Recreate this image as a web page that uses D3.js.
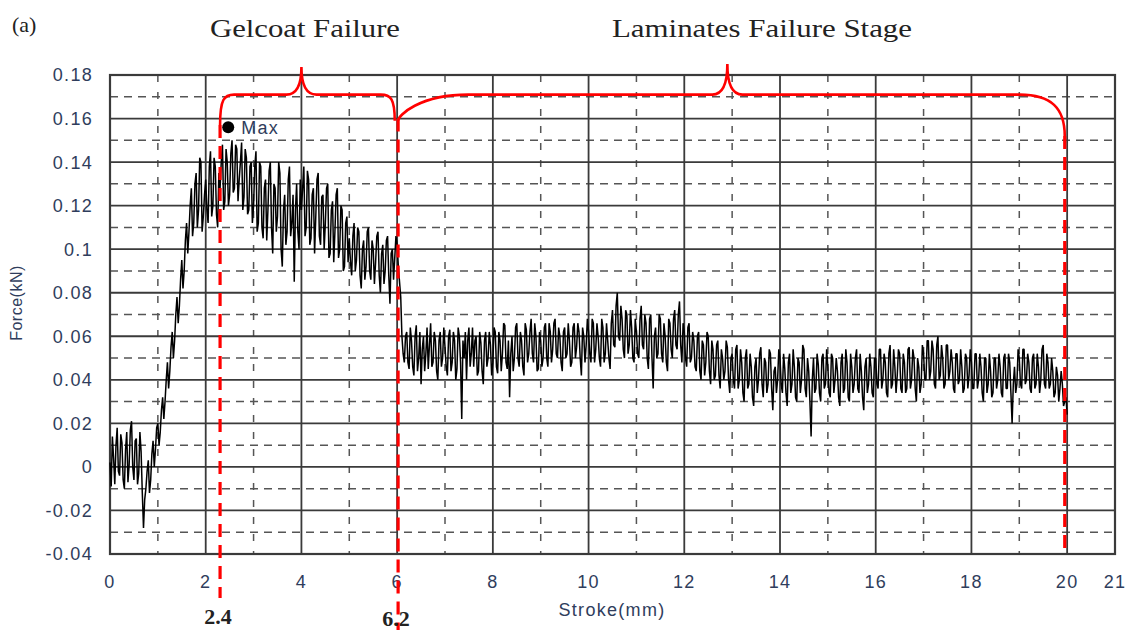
<!DOCTYPE html>
<meta charset="utf-8">
<style>
  body { margin: 0; background: #fff; }
  .tick-label { font: 18px "Liberation Sans", Arial, sans-serif; fill: #2f3d5c; letter-spacing: 1.3px; }
  .serif { font-family: "Liberation Serif", "Times New Roman", serif; fill: #222; }
</style>
<body>
<script src="https://d3js.org/d3.v7.min.js"></script>
<script>

// Force readings (kN), one every 0.05 mm of stroke (1 mm per row)
var strokeStep = 0.05;
var forceValues = [
  0.002, 0.014, -0.008, 0.018, -0.004, 0.011, -0.010, 0.016, 0.001, 0.021, -0.006, 0.013, -0.003, 0.007, -0.028, -0.010, 0.003, -0.006, 0.012, 0.008,
  0.020, 0.016, 0.032, 0.030, 0.048, 0.044, 0.062, 0.058, 0.078, 0.074, 0.095, 0.090, 0.112, 0.108, 0.128, 0.112, 0.135, 0.118, 0.140, 0.115,
  0.132, 0.112, 0.145, 0.120, 0.138, 0.110, 0.128, 0.148, 0.122, 0.140, 0.125, 0.150, 0.128, 0.146, 0.132, 0.149, 0.124, 0.142, 0.118, 0.140,
  0.120, 0.145, 0.112, 0.138, 0.105, 0.132, 0.118, 0.140, 0.098, 0.128, 0.115, 0.135, 0.092, 0.125, 0.108, 0.138, 0.112, 0.085, 0.130, 0.100,
  0.118, 0.138, 0.110, 0.132, 0.105, 0.128, 0.115, 0.135, 0.102, 0.125, 0.112, 0.130, 0.098, 0.122, 0.108, 0.128, 0.100, 0.118, 0.092, 0.115,
  0.105, 0.088, 0.112, 0.095, 0.108, 0.082, 0.104, 0.092, 0.110, 0.086, 0.100, 0.094, 0.108, 0.080, 0.102, 0.090, 0.106, 0.075, 0.100, 0.096,
  0.102, 0.085, 0.060, 0.048, 0.062, 0.045, 0.058, 0.042, 0.065, 0.050, 0.038, 0.060, 0.052, 0.045, 0.066, 0.048, 0.058, 0.040, 0.062, 0.050,
  0.055, 0.042, 0.063, 0.048, 0.058, 0.045, 0.060, 0.022, 0.050, 0.040, 0.064, 0.052, 0.046, 0.060, 0.044, 0.057, 0.038, 0.062, 0.050, 0.056,
  0.048, 0.062, 0.043, 0.058, 0.052, 0.065, 0.045, 0.032, 0.060, 0.050, 0.066, 0.046, 0.058, 0.042, 0.063, 0.052, 0.068, 0.048, 0.060, 0.045,
  0.058, 0.050, 0.066, 0.046, 0.062, 0.054, 0.068, 0.050, 0.060, 0.044, 0.064, 0.052, 0.058, 0.048, 0.066, 0.055, 0.062, 0.042, 0.060, 0.056,
  0.062, 0.048, 0.066, 0.054, 0.060, 0.046, 0.064, 0.052, 0.058, 0.045, 0.072, 0.055, 0.080, 0.058, 0.068, 0.050, 0.070, 0.056, 0.064, 0.048,
  0.062, 0.050, 0.074, 0.054, 0.066, 0.045, 0.070, 0.036, 0.064, 0.052, 0.068, 0.048, 0.060, 0.044, 0.066, 0.050, 0.072, 0.054, 0.076, 0.048,
  0.062, 0.046, 0.066, 0.050, 0.058, 0.044, 0.062, 0.040, 0.056, 0.048, 0.060, 0.038, 0.054, 0.042, 0.058, 0.036, 0.050, 0.044, 0.055, 0.034,
  0.052, 0.036, 0.056, 0.040, 0.048, 0.030, 0.054, 0.038, 0.046, 0.028, 0.050, 0.040, 0.055, 0.032, 0.048, 0.038, 0.052, 0.026, 0.046, 0.040,
  0.050, 0.034, 0.045, 0.028, 0.052, 0.038, 0.046, 0.030, 0.048, 0.040, 0.054, 0.032, 0.044, 0.014, 0.050, 0.036, 0.047, 0.030, 0.052, 0.038,
  0.046, 0.032, 0.050, 0.040, 0.044, 0.028, 0.052, 0.036, 0.048, 0.030, 0.046, 0.038, 0.054, 0.034, 0.044, 0.026, 0.050, 0.038, 0.046, 0.032,
  0.050, 0.036, 0.054, 0.040, 0.048, 0.032, 0.056, 0.038, 0.046, 0.042, 0.052, 0.034, 0.048, 0.036, 0.055, 0.040, 0.050, 0.030, 0.046, 0.038,
  0.052, 0.040, 0.058, 0.044, 0.054, 0.036, 0.060, 0.042, 0.050, 0.038, 0.056, 0.044, 0.048, 0.034, 0.052, 0.040, 0.046, 0.036, 0.050, 0.042,
  0.048, 0.036, 0.052, 0.040, 0.046, 0.030, 0.050, 0.038, 0.044, 0.034, 0.050, 0.040, 0.046, 0.032, 0.052, 0.036, 0.048, 0.020, 0.046, 0.038,
  0.050, 0.036, 0.054, 0.040, 0.048, 0.034, 0.052, 0.038, 0.046, 0.040, 0.056, 0.036, 0.048, 0.038, 0.044, 0.034, 0.042, 0.036, 0.038, 0.030,
  0.024
];
// readings half way between the ones above (0.025, 0.075, ... mm)
var forceMid = [
  -0.009, 0.004, 0.010, -0.002, 0.015, -0.006, 0.008, -0.007, 0.017, 0.000, 0.012, -0.008, 0.016, -0.012, -0.015, -0.002, -0.012, 0.006, 0.000, 0.018,
  0.010, 0.026, 0.022, 0.040, 0.036, 0.055, 0.050, 0.070, 0.066, 0.086, 0.082, 0.104, 0.098, 0.120, 0.106, 0.130, 0.110, 0.142, 0.108, 0.125,
  0.118, 0.138, 0.115, 0.142, 0.116, 0.135, 0.140, 0.118, 0.146, 0.120, 0.144, 0.126, 0.148, 0.122, 0.140, 0.118, 0.146, 0.116, 0.138, 0.112,
  0.138, 0.108, 0.140, 0.110, 0.128, 0.104, 0.136, 0.110, 0.130, 0.108, 0.140, 0.100, 0.118, 0.102, 0.132, 0.106, 0.125, 0.118, 0.108, 0.132,
  0.128, 0.106, 0.136, 0.102, 0.125, 0.098, 0.132, 0.106, 0.124, 0.100, 0.128, 0.096, 0.118, 0.094, 0.125, 0.096, 0.120, 0.090, 0.112, 0.094,
  0.094, 0.106, 0.090, 0.110, 0.088, 0.100, 0.086, 0.108, 0.090, 0.104, 0.084, 0.106, 0.088, 0.098, 0.084, 0.104, 0.088, 0.098, 0.086, 0.106,
  0.092, 0.078, 0.052, 0.060, 0.048, 0.064, 0.046, 0.060, 0.044, 0.062, 0.054, 0.044, 0.064, 0.056, 0.046, 0.062, 0.044, 0.058, 0.046, 0.064,
  0.046, 0.060, 0.044, 0.062, 0.040, 0.064, 0.048, 0.058, 0.062, 0.058, 0.046, 0.064, 0.058, 0.042, 0.062, 0.044, 0.058, 0.046, 0.062, 0.042,
  0.064, 0.046, 0.062, 0.044, 0.066, 0.048, 0.058, 0.052, 0.044, 0.064, 0.050, 0.062, 0.046, 0.066, 0.048, 0.062, 0.052, 0.066, 0.044, 0.062,
  0.046, 0.064, 0.050, 0.066, 0.048, 0.066, 0.052, 0.064, 0.048, 0.062, 0.050, 0.066, 0.046, 0.064, 0.050, 0.066, 0.050, 0.064, 0.048, 0.068,
  0.052, 0.068, 0.048, 0.066, 0.050, 0.068, 0.048, 0.066, 0.050, 0.066, 0.056, 0.074, 0.060, 0.074, 0.054, 0.072, 0.052, 0.072, 0.050, 0.068,
  0.052, 0.068, 0.056, 0.070, 0.050, 0.068, 0.050, 0.060, 0.050, 0.070, 0.052, 0.066, 0.048, 0.068, 0.054, 0.068, 0.056, 0.070, 0.056, 0.066,
  0.050, 0.064, 0.048, 0.062, 0.046, 0.060, 0.044, 0.058, 0.042, 0.062, 0.044, 0.058, 0.040, 0.056, 0.042, 0.054, 0.040, 0.058, 0.040, 0.050,
  0.040, 0.054, 0.036, 0.054, 0.034, 0.050, 0.036, 0.052, 0.032, 0.046, 0.034, 0.052, 0.038, 0.050, 0.034, 0.054, 0.036, 0.044, 0.034, 0.054,
  0.038, 0.052, 0.034, 0.048, 0.034, 0.054, 0.032, 0.050, 0.034, 0.056, 0.036, 0.050, 0.030, 0.040, 0.034, 0.052, 0.034, 0.050, 0.036, 0.054,
  0.034, 0.052, 0.034, 0.050, 0.032, 0.048, 0.034, 0.054, 0.032, 0.052, 0.034, 0.050, 0.036, 0.052, 0.032, 0.046, 0.034, 0.052, 0.034, 0.050,
  0.038, 0.054, 0.036, 0.052, 0.034, 0.052, 0.036, 0.054, 0.034, 0.054, 0.036, 0.052, 0.034, 0.054, 0.036, 0.054, 0.036, 0.050, 0.034, 0.056,
  0.040, 0.058, 0.040, 0.058, 0.038, 0.056, 0.040, 0.056, 0.036, 0.056, 0.040, 0.054, 0.036, 0.052, 0.038, 0.054, 0.034, 0.052, 0.036, 0.054,
  0.036, 0.052, 0.036, 0.052, 0.034, 0.050, 0.034, 0.052, 0.032, 0.050, 0.036, 0.052, 0.034, 0.050, 0.036, 0.052, 0.034, 0.038, 0.034, 0.054,
  0.038, 0.054, 0.038, 0.052, 0.036, 0.050, 0.036, 0.052, 0.034, 0.054, 0.038, 0.052, 0.036, 0.050, 0.032, 0.046, 0.030, 0.044, 0.028, 0.032
];

var xTicks = [0, 2, 4, 6, 8, 10, 12, 14, 16, 18, 20, 21];
var yTicks = [-0.04, -0.02, 0, 0.02, 0.04, 0.06, 0.08, 0.1, 0.12, 0.14, 0.16, 0.18];

// stage boundaries (where the red dashed lines sit) and their labels
var stageLines = [2.3, 6.02, 19.95];
var stageLabels = ["2.4", "6.2"];
var stageNames = ["Gelcoat Failure", "Laminates Failure Stage"];
var maxPoint = { stroke: 2.47, force: 0.156 };

var width = 1129, height = 630;

var svg = d3.select("body").append("svg")
  .attr("width", width)
  .attr("height", height);

var x = d3.scaleLinear().domain([0, 21]).range([110, 1115]);
var y = d3.scaleLinear().domain([-0.04, 0.18]).range([554, 75]);

// grid: solid every 2 mm / 0.02 kN, dashed in between
var grid = svg.append("g");
d3.range(1, 20, 2).forEach(function (v) {
  grid.append("line")
    .attr("x1", x(v)).attr("x2", x(v)).attr("y1", y(0.18)).attr("y2", y(-0.04))
    .attr("stroke", "#555").attr("stroke-width", 1.5).attr("stroke-dasharray", "7,10");
});
d3.range(-0.03, 0.18, 0.02).forEach(function (v) {
  grid.append("line")
    .attr("x1", x(0)).attr("x2", x(21)).attr("y1", y(v)).attr("y2", y(v))
    .attr("stroke", "#555").attr("stroke-width", 1.5).attr("stroke-dasharray", "8,6");
});
xTicks.slice(1, -1).forEach(function (v) {
  grid.append("line")
    .attr("x1", x(v)).attr("x2", x(v)).attr("y1", y(0.18)).attr("y2", y(-0.04))
    .attr("stroke", "#3a3a3a").attr("stroke-width", 1.8);
});
yTicks.slice(1, -1).forEach(function (v) {
  grid.append("line")
    .attr("x1", x(0)).attr("x2", x(21)).attr("y1", y(v)).attr("y2", y(v))
    .attr("stroke", "#3a3a3a").attr("stroke-width", 1.8);
});
svg.append("rect")
  .attr("x", x(0)).attr("y", y(0.18))
  .attr("width", x(21) - x(0)).attr("height", y(-0.04) - y(0.18))
  .attr("fill", "none").attr("stroke", "#3a3a3a").attr("stroke-width", 2.2);

// axes labels
svg.append("g").selectAll("text").data(xTicks).join("text")
  .attr("class", "tick-label")
  .attr("x", function (d) { return x(d); })
  .attr("y", 588)
  .attr("text-anchor", "middle")
  .text(function (d) { return d; });

svg.append("g").selectAll("text").data(yTicks).join("text")
  .attr("class", "tick-label")
  .attr("x", 93)
  .attr("y", function (d) { return y(d); })
  .attr("dy", "0.36em")
  .attr("text-anchor", "end")
  .text(function (d) { return String(+d.toFixed(2)); });

svg.append("text")
  .attr("class", "tick-label")
  .attr("x", 612).attr("y", 616)
  .attr("text-anchor", "middle")
  .text("Stroke(mm)");

svg.append("text")
  .attr("class", "tick-label")
  .style("font-size", "16px")
  .style("letter-spacing", "0.5px")
  .attr("transform", "translate(22,303) rotate(-90)")
  .attr("text-anchor", "middle")
  .text("Force(kN)");

// force curve: interleave the two sets of readings
var points = [];
forceValues.forEach(function (f, i) {
  points.push([i * strokeStep, f]);
  if (i < forceMid.length) points.push([(i + 0.5) * strokeStep, forceMid[i]]);
});

var line = d3.line()
  .x(function (d) { return x(d[0]); })
  .y(function (d) { return y(d[1]); });

svg.append("path")
  .datum(points)
  .attr("d", line)
  .attr("fill", "none")
  .attr("stroke", "#000")
  .attr("stroke-width", 1.5)
  .attr("stroke-linejoin", "bevel");

// max marker
svg.append("circle")
  .attr("cx", x(maxPoint.stroke)).attr("cy", y(maxPoint.force))
  .attr("r", 6).attr("fill", "#000");
svg.append("text")
  .attr("class", "tick-label")
  .attr("x", x(maxPoint.stroke) + 13).attr("y", y(maxPoint.force) + 7)
  .text("Max");

// red dashed stage lines
var lineBottoms = [598, 630, y(-0.04)];
var lineTops = [y(0.157), y(0.16), y(0.152)];
stageLines.forEach(function (v, i) {
  svg.append("line")
    .attr("x1", x(v)).attr("x2", x(v))
    .attr("y1", lineTops[i]).attr("y2", lineBottoms[i])
    .attr("stroke", "#f00").attr("stroke-width", 3.2)
    .attr("stroke-dasharray", "13,8");
});

svg.selectAll(".stage-label").data(stageLabels).join("text")
  .attr("class", "serif")
  .attr("x", function (d, i) { return x(stageLines[i]) - 2; })
  .attr("y", function (d, i) { return i === 0 ? 624 : 626; })
  .attr("text-anchor", "middle")
  .style("font-size", "22px")
  .style("font-weight", "bold")
  .text(function (d) { return d; });

// curly braces above each stage
var barY = y(0.171);
function brace(x0, x1, xm, yl, yr, tipY, rl, rr) {
  var p = d3.path();
  p.moveTo(x0, yl);
  p.bezierCurveTo(x0, barY + rl * 0.3, x0 + rl * 0.3, barY, x0 + rl, barY);
  p.lineTo(xm - 15, barY);
  p.quadraticCurveTo(xm, barY, xm, tipY);
  p.quadraticCurveTo(xm, barY, xm + 15, barY);
  p.lineTo(x1 - rr, barY);
  p.bezierCurveTo(x1 - rr * 0.3, barY, x1, barY + rr * 0.3, x1, yr);
  return p.toString();
}
svg.append("path")
  .attr("d", brace(x(2.3), x(5.95), x(4.0), y(0.157), y(0.159), 67, 14, 14))
  .attr("fill", "none").attr("stroke", "#f00").attr("stroke-width", 2.6);
svg.append("path")
  .attr("d", brace(x(6.02), x(19.95), x(12.9), y(0.159), y(0.152), 64, 70, 45))
  .attr("fill", "none").attr("stroke", "#f00").attr("stroke-width", 2.6);

// titles
svg.append("text").attr("class", "serif")
  .attr("x", 12).attr("y", 32)
  .style("font-size", "22px").text("(a)");
svg.selectAll(".stage-name").data(stageNames).join("text")
  .attr("class", "serif")
  .attr("x", function (d, i) { return i === 0 ? 210 : 612; })
  .attr("y", 37)
  .attr("textLength", function (d, i) { return i === 0 ? 190 : 300; })
  .attr("lengthAdjust", "spacingAndGlyphs")
  .style("font-size", "26px")
  .text(function (d) { return d; });

</script>
</body>
